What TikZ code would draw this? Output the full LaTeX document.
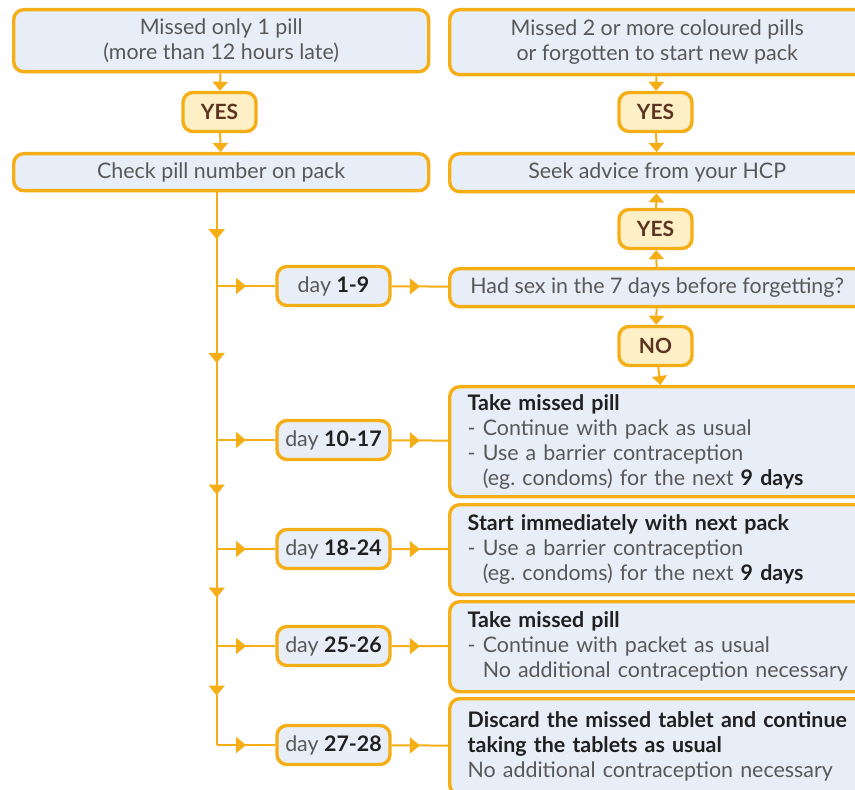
\documentclass[tikz,border=0pt]{standalone}
\usepackage{fontspec}
\setmainfont{Lato}
\usetikzlibrary{arrows.meta}
\usetikzlibrary{decorations.markings}
\definecolor{pillorange}{RGB}{245,174,22}
\definecolor{boxblue}{RGB}{232,238,247}
\definecolor{answerfill}{RGB}{253,239,198}
\definecolor{answertext}{RGB}{92,52,32}
\definecolor{bodygrey}{RGB}{88,88,88}
\definecolor{darktext}{RGB}{32,32,32}
\newcommand{\bolddark}[1]{{\bfseries\color{darktext}#1}}

\tikzset{
  box/.style={draw=pillorange, line width=1.7pt, fill=boxblue, rounded corners=5pt,
    text=bodygrey, font=\fontsize{10.7}{12.5}\selectfont, inner sep=0pt},
  wide/.style={box, anchor=north west, minimum width=207.5pt, align=center},
  action/.style={box, anchor=north west, align=left, text width=200pt, inner xsep=9pt},
  answer/.style={box, fill=answerfill, text=answertext, font=\bfseries\fontsize{10.5}{12}\selectfont,
    minimum width=36.5pt, minimum height=19.5pt},
  daybox/.style={box, minimum width=56.5pt, minimum height=19.5pt},
  link/.style={draw=pillorange, line width=1pt},
  tip/.style={link, -{Triangle[width=7.5pt,length=4.5pt]}},
  midarrow/.style={link, postaction={decorate}, decoration={markings,
    mark=at position 0.5 with {\arrow{Triangle[width=8pt,length=5pt]}}}},
}

\begin{document}
\begin{tikzpicture}[x=0.5pt,y=-0.5pt]
  \clip (0,0) rectangle (855,790);

  % left column
  \node[wide, minimum height=31pt] (one) at (12,8) {Missed only 1 pill\\(more than 12 hours late)};
  \node[answer] (yesone) at (219.5,112) {YES};
  \node[wide, minimum height=18.5pt] (check) at (12,152) {Check pill number on pack};

  % right column
  \node[wide, minimum height=32.5pt] (two) at (448,8) {Missed 2 or more coloured pills\\or forgotten to start new pack};
  \node[answer] (yestwo) at (655.5,112) {YES};
  \node[wide, minimum height=19pt] (seek) at (448,152) {Seek advice from your HCP};
  \node[answer] (yesthree) at (655.5,229) {YES};
  \node[wide, minimum height=19pt] (hadsex) at (448,267) {Had sex in the 7 days before forgetting?};
  \node[answer] (no) at (655.5,346) {NO};

  \node[action, minimum height=55pt] (takeone) at (448,385)
    {\bolddark{Take missed pill}\\
     - Continue with pack as usual\\
     - Use a barrier contraception\\
     \hphantom{- }(eg.\ condoms) for the next \bolddark{9 days}};
  \node[action, minimum height=45pt] (nextpack) at (448,503)
    {\bolddark{Start immediately with next pack}\\
     - Use a barrier contraception\\
     \hphantom{- }(eg.\ condoms) for the next \bolddark{9 days}};
  \node[action, minimum height=45pt] (taketwo) at (448,600)
    {\bolddark{Take missed pill}\\
     - Continue with packet as usual\\
     \hphantom{- }No additional contraception necessary};
  \node[action, minimum height=48pt] (discard) at (448,697)
    {\bolddark{Discard the missed tablet and continue}\\
     \bolddark{taking the tablets as usual}\\
     No additional contraception necessary};

  % day ranges
  \node[daybox] (dayone) at (333.5,286) {day \bolddark{1-9}};
  \node[daybox] (daytwo) at (333.5,440) {day \bolddark{10-17}};
  \node[daybox] (daythree) at (333.5,549) {day \bolddark{18-24}};
  \node[daybox] (dayfour) at (333.5,646) {day \bolddark{25-26}};
  \node[daybox] (dayfive) at (333.5,745) {day \bolddark{27-28}};

  \coordinate (trunk) at ([xshift=-2.25pt]check.south);
  \coordinate (bone) at (trunk |- dayone.west);
  \coordinate (btwo) at (trunk |- daytwo.west);
  \coordinate (bthree) at (trunk |- daythree.west);
  \coordinate (bfour) at (trunk |- dayfour.west);
  \coordinate (bfive) at (trunk |- dayfive.west);

  \draw[tip] (one) -- (yesone);
  \draw[tip] (yesone) -- (check);
  \draw[tip] (two) -- (yestwo);
  \draw[tip] (yestwo) -- (seek);
  \draw[tip] (hadsex) -- (yesthree);
  \draw[tip] (yesthree) -- (seek);
  \draw[tip] (hadsex) -- (no);
  \draw[tip] (no) -- (takeone);

  \draw[midarrow] (trunk) -- (bone);
  \draw[midarrow] (bone) -- (btwo);
  \draw[midarrow] (btwo) -- (bthree);
  \draw[midarrow] (bthree) -- (bfour);
  \draw[midarrow] (bfour) -- (bfive);
  \draw[midarrow] (bone) -- (dayone);
  \draw[midarrow] (btwo) -- (daytwo);
  \draw[midarrow] (bthree) -- (daythree);
  \draw[midarrow] (bfour) -- (dayfour);
  \draw[midarrow] (bfive) -- (dayfive);

  \draw[midarrow] (dayone) -- (hadsex);
  \draw[midarrow] (daytwo) -- (takeone);
  \draw[midarrow] (daythree) -- (nextpack);
  \draw[midarrow] (dayfour) -- (taketwo);
  \draw[midarrow] (dayfive) -- (discard);
\end{tikzpicture}
\end{document}
